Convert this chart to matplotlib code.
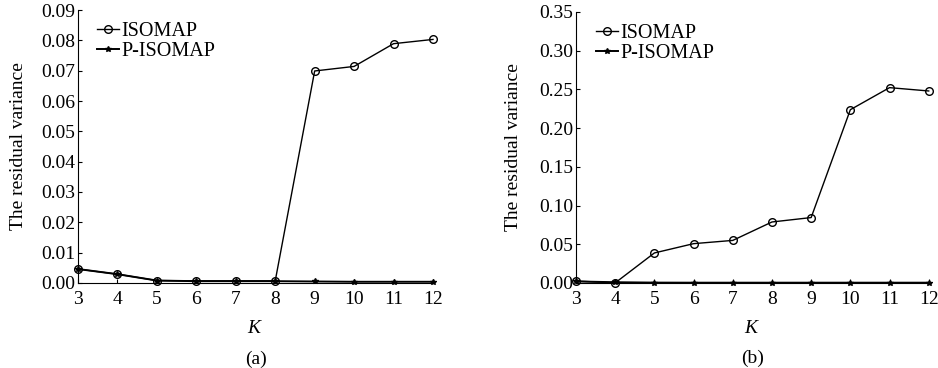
import matplotlib
matplotlib.use('Agg')
import matplotlib.pyplot as plt

plt.rcParams['font.family'] = ['Liberation Serif', 'DejaVu Serif']
plt.rcParams['mathtext.fontset'] = 'custom'
plt.rcParams['mathtext.it'] = 'Liberation Serif:italic'

k = [3, 4, 5, 6, 7, 8, 9, 10, 11, 12]

# panel (a)
isomap_a = [0.0046, 0.0029, 0.0008, 0.0007, 0.0007, 0.0007, 0.0699, 0.0714, 0.0789, 0.0803]
pisomap_a = [0.0046, 0.0029, 0.0008, 0.0006, 0.0006, 0.0006, 0.0005, 0.0004, 0.0004, 0.0004]
yticks_a = [0.00, 0.01, 0.02, 0.03, 0.04, 0.05, 0.06, 0.07, 0.08, 0.09]

# panel (b)
isomap_b = [0.0025, 0.0002, 0.0388, 0.0508, 0.0550, 0.0788, 0.0845, 0.2238, 0.2523, 0.2480]
pisomap_b = [0.0020, 0.0010, 0.0005, 0.0004, 0.0004, 0.0004, 0.0004, 0.0004, 0.0004, 0.0004]
yticks_b = [0.00, 0.05, 0.10, 0.15, 0.20, 0.25, 0.30, 0.35]

fig = plt.figure(figsize=(9.38, 3.68), dpi=100)
ax1 = fig.add_axes([0.0832, 0.2310, 0.3784, 0.7418])
ax2 = fig.add_axes([0.6141, 0.2310, 0.3760, 0.7364])


def draw(ax, iso, piso, yticks, tag, leg_x, ylab_x):
    ax.plot(k, iso, color='black', lw=1.0, marker='o', ms=5.5, mfc='none', mec='black',
            mew=1.0, label='ISOMAP', clip_on=False, zorder=3)
    ax.plot(k, piso, color='black', lw=1.4, marker='*', ms=4, label='P-ISOMAP',
            clip_on=False, zorder=2)
    ax.set_xlim(3, 12)
    ax.set_ylim(0, yticks[-1])
    ax.set_xticks(k)
    ax.set_yticks(yticks)
    ax.set_yticklabels(['%.2f' % v for v in yticks])
    for s in ['top', 'right']:
        ax.spines[s].set_visible(False)
    ax.spines['left'].set_linewidth(0.8)
    ax.spines['bottom'].set_linewidth(0.8)
    ax.tick_params(direction='in', length=3, labelsize=14, pad=2)
    ax.tick_params(axis='x', pad=6)
    ax.set_ylabel('The residual variance', fontsize=14)
    ax.yaxis.set_label_coords(ylab_x, 0.5)
    ax.set_xlabel('$K$', fontsize=14)
    ax.xaxis.set_label_coords(0.5, -0.135)
    ax.text(0.5, -0.278, tag, transform=ax.transAxes, ha='center', va='center', fontsize=14)
    ax.legend(loc='upper left', bbox_to_anchor=(leg_x, 0.955), frameon=False, fontsize=14.5,
              handlelength=1.1, handletextpad=0.1, borderaxespad=0, borderpad=0,
              labelspacing=0.05)


draw(ax1, isomap_a, pisomap_a, yticks_a, '(a)', 0.054, -0.144)
draw(ax2, isomap_b, pisomap_b, yticks_b, '(b)', 0.056, -0.152)

plt.savefig('out.png', dpi=100)
